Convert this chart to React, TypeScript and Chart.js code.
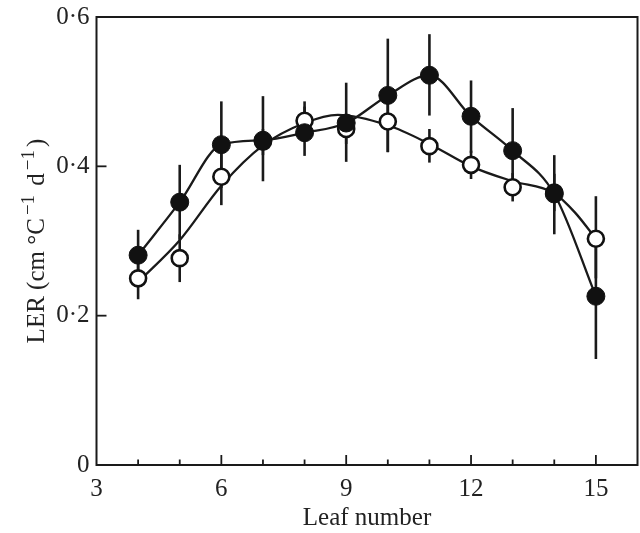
import React, { useEffect, useRef } from "react";
import { Chart, registerables } from "chart.js";

Chart.register(...registerables);

// Leaf numbers
const leaves = [4, 5, 6, 7, 8, 9, 10, 11, 12, 13, 14, 15];

// Filled symbols: mean and error-bar limits
const filledMean = [0.281, 0.352, 0.429, 0.435, 0.445, 0.458, 0.495, 0.522, 0.467, 0.421, 0.363, 0.226];
const filledLow = [0.247, 0.302, 0.371, 0.38, 0.414, 0.406, 0.419, 0.468, 0.418, 0.365, 0.309, 0.142];
const filledHigh = [0.315, 0.402, 0.487, 0.494, 0.487, 0.512, 0.571, 0.577, 0.515, 0.478, 0.415, 0.309];

// Open symbols: mean and error-bar limits
const openMean = [0.25, 0.277, 0.386, 0.433, 0.461, 0.45, 0.46, 0.427, 0.402, 0.372, 0.365, 0.303];
const openLow = [0.222, 0.245, 0.348, 0.415, 0.44, 0.43, 0.419, 0.405, 0.383, 0.353, 0.34, 0.25];
const openHigh = [0.278, 0.309, 0.424, 0.45, 0.48, 0.47, 0.5, 0.45, 0.421, 0.391, 0.39, 0.36];

// Fitted curve through open symbols
const openCurveX = [4, 5, 6, 7, 8, 8.8, 10, 11, 12, 13, 14, 14.5, 15];
const openCurveY = [0.245, 0.301, 0.374, 0.428, 0.458, 0.469, 0.455, 0.43, 0.4, 0.38, 0.364, 0.338, 0.303];

// Axis ticks
const xTickLabels = [3, 6, 9, 12, 15];
const xTickMarks = [4, 5, 6, 7, 8, 9, 10, 11, 12, 13, 14, 15];
const yTickLabels = [0, 0.2, 0.4, 0.6];
const yTickMarks = [0.2, 0.4];

// Y-axis title pieces (normal / superscript)
const yTitleParts: { t: string; sup: boolean }[] = [
  { t: "LER (cm \u00B0C", sup: false },
  { t: "\u22121", sup: true },
  { t: " d", sup: false },
  { t: "\u22121", sup: true },
  { t: ")", sup: false },
];

const FONT = "'Liberation Serif', 'Times New Roman', serif";
const INK = "#1a1a1a";

const zeroPad = (s: any) => {
  s.paddingTop = 0;
  s.paddingBottom = 0;
  s.paddingLeft = 0;
  s.paddingRight = 0;
};

const frameAndBars = {
  id: "frameAndBars",
  beforeDatasetsDraw(chart: any) {
    const { ctx, scales } = chart;
    const xs = scales.x;
    const ys = scales.y;
    ctx.save();
    ctx.strokeStyle = INK;
    ctx.lineWidth = 2.6;
    ctx.lineCap = "butt";
    const drawBars = (lo: number[], hi: number[]) => {
      leaves.forEach((lf, i) => {
        const px = xs.getPixelForValue(lf);
        ctx.beginPath();
        ctx.moveTo(px, ys.getPixelForValue(lo[i]));
        ctx.lineTo(px, ys.getPixelForValue(hi[i]));
        ctx.stroke();
      });
    };
    drawBars(openLow, openHigh);
    drawBars(filledLow, filledHigh);
    ctx.restore();
  },
  afterDraw(chart: any) {
    const { ctx, chartArea, scales } = chart;
    const xs = scales.x;
    const ys = scales.y;
    ctx.save();
    ctx.strokeStyle = INK;
    ctx.lineWidth = 2;
    ctx.strokeRect(chartArea.left, chartArea.top, chartArea.right - chartArea.left, chartArea.bottom - chartArea.top);
    ctx.lineWidth = 1.8;
    xTickMarks.forEach((v) => {
      const px = xs.getPixelForValue(v);
      const len = v % 3 === 0 ? 10 : 5.5;
      ctx.beginPath();
      ctx.moveTo(px, chartArea.bottom);
      ctx.lineTo(px, chartArea.bottom - len);
      ctx.stroke();
    });
    yTickMarks.forEach((v) => {
      const py = ys.getPixelForValue(v);
      ctx.beginPath();
      ctx.moveTo(chartArea.left, py);
      ctx.lineTo(chartArea.left + 10, py);
      ctx.stroke();
    });

    // Y-axis title with superscripts
    const mainFont = `25px ${FONT}`;
    const supFont = `19px ${FONT}`;
    const gap = 3;
    let total = 0;
    const widths = yTitleParts.map((p) => {
      ctx.font = p.sup ? supFont : mainFont;
      const w = ctx.measureText(p.t).width + (p.sup ? 2 * gap : 0);
      total += w;
      return w;
    });
    const cx = 35;
    const cy = (chartArea.top + chartArea.bottom) / 2;
    ctx.translate(cx, cy);
    ctx.rotate(-Math.PI / 2);
    ctx.fillStyle = "#222";
    ctx.textBaseline = "alphabetic";
    ctx.textAlign = "left";
    let x = -total / 2;
    const base = 9;
    yTitleParts.forEach((p, i) => {
      ctx.font = p.sup ? supFont : mainFont;
      ctx.fillText(p.t, p.sup ? x + gap : x, p.sup ? base - 10 : base);
      x += widths[i];
    });
    ctx.restore();
  },
};

export default function App() {
  const ref = useRef<HTMLCanvasElement | null>(null);
  useEffect(() => {
    document.body.style.margin = "0";
    const canvas = ref.current;
    if (!canvas) return;
    const chart = new Chart(canvas, {
      type: "scatter",
      data: {
        datasets: [
          {
            label: "filled points",
            data: leaves.map((x, i) => ({ x, y: filledMean[i] })),
            showLine: false,
            pointRadius: 9,
            pointBackgroundColor: "#111",
            pointBorderColor: "#111",
            pointBorderWidth: 1,
          },
          {
            label: "open points",
            data: leaves.map((x, i) => ({ x, y: openMean[i] })),
            showLine: false,
            pointRadius: 8,
            pointBackgroundColor: "#fff",
            pointBorderColor: "#111",
            pointBorderWidth: 2.6,
          },
          {
            label: "filled curve",
            data: leaves.map((x, i) => ({ x, y: filledMean[i] })),
            showLine: true,
            pointRadius: 0,
            borderColor: INK,
            borderWidth: 2.3,
            cubicInterpolationMode: "monotone",
          },
          {
            label: "open curve",
            data: openCurveX.map((x, i) => ({ x, y: openCurveY[i] })),
            showLine: true,
            pointRadius: 0,
            borderColor: INK,
            borderWidth: 2.3,
            cubicInterpolationMode: "monotone",
          },
        ],
      },
      options: {
        animation: false,
        responsive: false,
        maintainAspectRatio: false,
        events: [],
        layout: { autoPadding: false, padding: { top: 17, right: 2.5, left: 0, bottom: 0 } },
        plugins: { legend: { display: false }, tooltip: { enabled: false } },
        scales: {
          x: {
            type: "linear",
            min: 3,
            max: 16,
            grid: { display: false, drawTicks: false },
            border: { display: false },
            afterBuildTicks: (s: any) => {
              s.ticks = xTickLabels.map((v) => ({ value: v }));
            },
            afterFit: (s: any) => {
              s.height = 68;
              zeroPad(s);
            },
            ticks: {
              padding: 9,
              color: "#222",
              font: { family: FONT, size: 25 },
              maxRotation: 0,
              callback: (v: any) => String(v),
            },
            title: {
              display: true,
              text: "Leaf number",
              color: "#222",
              font: { family: FONT, size: 25 },
              padding: { top: 0, bottom: 0 },
            },
          },
          y: {
            type: "linear",
            min: 0,
            max: 0.6,
            grid: { display: false, drawTicks: false },
            border: { display: false },
            afterBuildTicks: (s: any) => {
              s.ticks = yTickLabels.map((v) => ({ value: v }));
            },
            afterFit: (s: any) => {
              s.width = 96.5;
              zeroPad(s);
            },
            ticks: {
              padding: 7,
              color: "#222",
              font: { family: FONT, size: 25 },
              callback: (v: any) => (v === 0 ? "0" : Number(v).toFixed(1).replace(".", "\u00B7")),
            },
            title: { display: false },
          },
        },
      },
      plugins: [frameAndBars],
    });
    return () => chart.destroy();
  }, []);
  return (
    <div style={{ width: 640, height: 533 }}>
      <canvas ref={ref} width={640} height={533} style={{ display: "block", width: 640, height: 533 }} />
    </div>
  );
}
